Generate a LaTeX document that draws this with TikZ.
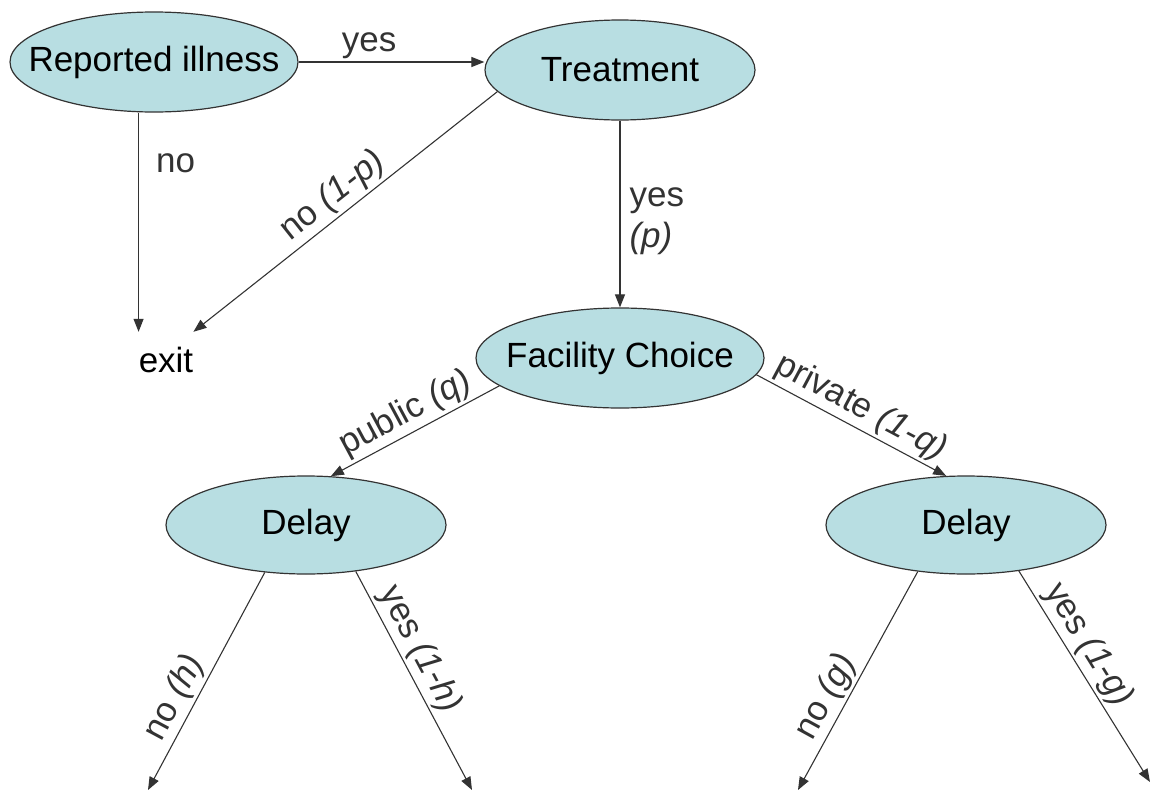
\documentclass[tikz,border=0pt]{standalone}
\usepackage{fontspec}
\setmainfont{Liberation Sans}
\usepackage{xcolor}
\usetikzlibrary{shapes.geometric}
\usetikzlibrary{arrows.meta}
\definecolor{nodeblue}{RGB}{184,222,226}
\tikzset{
  choice/.style={ellipse, draw=black!80, line width=1.2pt, fill=nodeblue,
    inner xsep=-30pt, minimum width=280pt, minimum height=98pt,
    font=\fontsize{35}{41}\selectfont},
  lbl/.style={font=\fontsize{35}{41}\selectfont, inner sep=3pt},
  arr/.style={-{Triangle[length=13pt,width=10pt]}, line width=1.1pt, black!80}
}

\begin{document}
\begin{tikzpicture}[x=1pt,y=-1pt]
\useasboundingbox (0,0) rectangle (1160,798);
\node[choice, minimum width=288pt, minimum height=100pt] (ri) at (154,62) {Reported illness};
\node[choice, minimum width=270pt, minimum height=100pt] (tr) at (620,70) {Treatment};
\node[choice, minimum width=288pt, minimum height=100pt] (fc) at (620,358) {Facility Choice};
\node[choice] (dl) at (306,525) {Delay};
\node[choice] (dr) at (966,525) {Delay};
\node[lbl, inner sep=0pt, minimum width=48pt, minimum height=56pt] (exit) at (166,360) {exit};
\coordinate (nh) at (148,790);
\coordinate (yh) at (472,790);
\coordinate (ng) at (798,790);
\coordinate (yg) at (1150,782);
% first two steps
\draw[arr] (ri.east) -- (ri.east -| tr.west) node[lbl, above, pos=0.38] {yes};
\draw[arr] (ri.south -| exit.north west) -- (exit.north west) node[lbl, right, pos=0.23, xshift=14pt] {no};
\draw[arr] (tr.190) -- (exit.north east) node[lbl, sloped, above, pos=0.5] {no \textit{(1-p)}};
\draw[arr] (tr) -- (fc) node[lbl, right, align=left, pos=0.54, xshift=6pt] {yes\\\textit{(p)}};
% facility
\draw[arr] (fc.193) -- (dl.63) node[lbl, sloped, above, pos=0.5] {public \textit{(q)}};
\draw[arr] (fc.-7) -- (dr.112) node[lbl, sloped, above, pos=0.5] {private \textit{(1-q)}};
% delays
\draw[arr] (dl.229) -- (nh) node[lbl, sloped, above, pos=0.62] {no \textit{(h)}};
\draw[arr] (dl.-43) -- (yh) node[lbl, sloped, above, pos=0.4] {yes \textit{(1-h)}};
\draw[arr] (dr.224) -- (ng) node[lbl, sloped, above, pos=0.62] {no \textit{(g)}};
\draw[arr] (dr.-41) -- (yg) node[lbl, sloped, above, pos=0.4] {yes \textit{(1-g)}};
\end{tikzpicture}
\end{document}
